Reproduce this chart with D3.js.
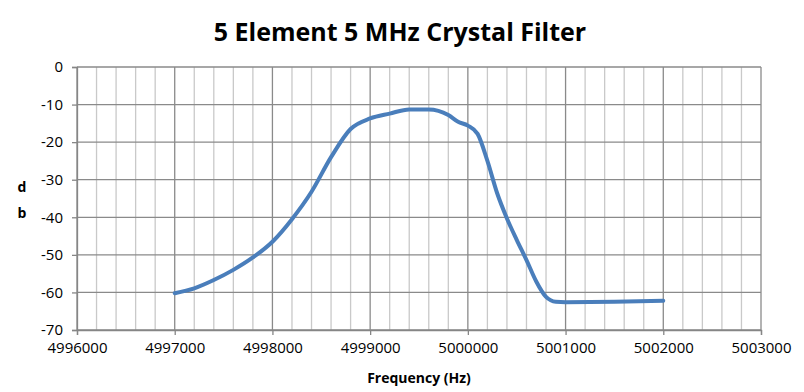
<!DOCTYPE html>
<html>
  <head>
    <meta charset="utf-8">
    <title>5 Element 5 MHz Crystal Filter</title>
  </head>
  <style>
  body{
      margin: 0;
      font-family: "Open Sans";
      background: #fff;
    }
  .axis text{
      font-size: 15px;
      fill: #000;
  }
  .axis path, .axis line{
      stroke: #868686;
  }
  </style>
  <script src="https://d3js.org/d3.v7.min.js"></script>
  <body>
    <script>
    // frequency (Hz) and attenuation (db)
    const freq = [4997000, 4997200, 4997400, 4997600, 4997800, 4998000, 4998200, 4998400,
                  4998600, 4998800, 4999000, 4999200, 4999400, 4999600, 4999800, 4999900,
                  5000000, 5000100, 5000200, 5000300, 5000400, 5000500, 5000600, 5000700,
                  5000800, 5000900, 5001000, 5001500, 5002000]
    const db   = [-60.2, -58.9, -56.7, -54.0, -50.7, -46.5, -40.5, -33.2,
                  -24.0, -16.5, -13.7, -12.4, -11.3, -11.3, -12.8, -14.6,
                  -15.6, -17.8, -25.0, -33.6, -40.3, -46.0, -51.4, -57.1,
                  -61.2, -62.5, -62.6, -62.5, -62.2]
    const xTicks = [4996000, 4997000, 4998000, 4999000, 5000000, 5001000, 5002000, 5003000]
    const yTicks = [0, -10, -20, -30, -40, -50, -60, -70]

    const data = freq.map(function(f, i){ return {f: f, v: db[i]} })

    var W = 804, H = 392
    var m = {left: 77, top: 67, right: 43, bottom: 62}
    var width = W - m.left - m.right
    var height = H - m.top - m.bottom

    var svg = d3.select("body").append("svg")
                .attr("width", W)
                .attr("height", H)

    var g = svg.append("g").attr("transform", "translate(" + m.left + "," + m.top + ")")

    var x = d3.scaleLinear().domain([4996000, 5003000]).range([0, width])
    var y = d3.scaleLinear().domain([-70, 0]).range([height, 0])

    // minor vertical grid every 200 Hz
    var minor = d3.range(4996000, 5003001, 200).filter(function(d){ return d % 1000 != 0 })
    g.append("g").selectAll("line").data(minor).enter().append("line")
      .attr("x1", function(d){ return x(d) }).attr("x2", function(d){ return x(d) })
      .attr("y1", 0).attr("y2", height)
      .attr("stroke", "#c9c9c9").attr("stroke-width", 1.3)

    // major grid
    g.append("g").selectAll("line").data(xTicks).enter().append("line")
      .attr("x1", function(d){ return x(d) }).attr("x2", function(d){ return x(d) })
      .attr("y1", 0).attr("y2", height)
      .attr("stroke", "#8a8a8a").attr("stroke-width", 1.3)

    g.append("g").selectAll("line").data(yTicks).enter().append("line")
      .attr("x1", 0).attr("x2", width)
      .attr("y1", function(d){ return y(d) }).attr("y2", function(d){ return y(d) })
      .attr("stroke", "#8a8a8a").attr("stroke-width", 1.3)

    // axes (plain hyphen for negatives, like the original)
    var fmt = function(d){ return String(d) }

    g.append("g").attr("class", "axis")
      .attr("transform", "translate(0," + height + ")")
      .call(d3.axisBottom(x).tickValues(xTicks).tickFormat(fmt).tickSizeOuter(0).tickSize(5).tickPadding(7))

    g.append("g").attr("class", "axis")
      .call(d3.axisLeft(y).tickValues(yTicks).tickFormat(fmt).tickSizeOuter(0).tickSize(5).tickPadding(9))

    g.selectAll(".axis path, .axis line").attr("stroke-width", 1.3)
    g.selectAll(".axis text").attr("font-family", "Open Sans")

    // curve
    var line = d3.line()
                 .x(function(d){ return x(d.f) })
                 .y(function(d){ return y(d.v) })
                 .curve(d3.curveMonotoneX)

    g.append("path").datum(data)
      .attr("d", line)
      .attr("fill", "none")
      .attr("stroke", "#4a7ebb")
      .attr("stroke-width", 4)
      .attr("stroke-linejoin", "round")
      .attr("stroke-linecap", "round")

    // titles
    svg.append("text")
      .attr("x", 400).attr("y", 41)
      .attr("text-anchor", "middle")
      .attr("font-size", 25).attr("font-weight", "bold")
      .text("5 Element 5 MHz Crystal Filter")

    svg.append("text")
      .attr("x", m.left + width / 2).attr("y", 383)
      .attr("text-anchor", "middle")
      .attr("font-size", 14).attr("font-weight", "bold")
      .text("Frequency (Hz)")

    svg.append("text").attr("x", 22).attr("y", 192)
      .attr("text-anchor", "middle").attr("font-size", 14).attr("font-weight", "bold").text("d")
    svg.append("text").attr("x", 22).attr("y", 218)
      .attr("text-anchor", "middle").attr("font-size", 14).attr("font-weight", "bold").text("b")
    </script>
  </body>
</html>
